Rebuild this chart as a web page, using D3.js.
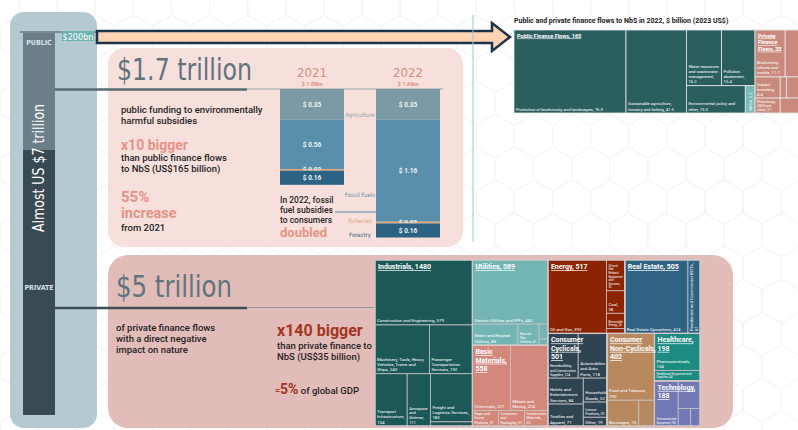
<!DOCTYPE html>
<html>
<head>
<meta charset="utf-8">
<script src="https://cdn.jsdelivr.net/npm/d3@7"></script>
<style>
body { margin: 0; background: #fff; }
svg { display: block; font-family: Roboto, "Noto Sans", sans-serif; }
</style>
</head>
<body>
<svg id="chart" width="798" height="430"></svg>
<script>
// ---- subsidies bars (US$ trillion)
const years = ["2021", "2022"];
const yearTotals = ["$ 1.09tn", "$ 1.69tn"];
const subsidyKeys = ["Agriculture", "Fossil Fuels", "Fisheries", "Forestry"];
const agriculture = [0.35, 0.35];
const fossilFuels = [0.56, 1.16];
const fisheries = [0.02, 0.02];
const forestry = [0.16, 0.16];

// ---- NbS finance flows 2022, $ billion
const nbsGroups = ["Public Finance Flows", "Private Finance Flows"];
const nbsTotals = [165, 35];
const nbsPublic = [
  ["Protection of biodiversity and landscapes", 76.9],
  ["Sustainable agriculture, forestry and fishing", 41.5],
  ["Water resources and wastewater management", 16.2],
  ["Pollution abatement", 15.4],
  ["Environmental policy and other", 13.3],
  ["BECA", 2.2]
];
const nbsPrivate = [
  ["Biodiversity offsets and credits", 11.7],
  ["Sustainable supply chains", 8.1],
  ["Impact investing", 4.4],
  ["Philanthropy (NGO and other)", 3.1],
  ["Carbon markets", 1.1],
  ["Private equity", 3.4],
  ["Other", 3.2]
];

// ---- private flows harmful to nature, $ billion
const sectors = ["Industrials", "Utilities", "Basic Materials", "Energy", "Real Estate",
  "Consumer Cyclicals", "Consumer Non-Cyclicals", "Healthcare", "Technology"];
const sectorTotals = [1480, 589, 558, 517, 505, 501, 402, 198, 188];
const industrials = [
  ["Construction and Engineering", 579],
  ["Machinery, Tools, Heavy Vehicles, Trains and Ships", 243],
  ["Passenger Transportation Services", 192],
  ["Transport Infrastructure", 154],
  ["Aerospace and Defense", 111],
  ["Freight and Logistics Services", 185],
  ["Diversified Industrial Goods Wholesale", 16]
];
const utilities = [
  ["Electric Utilities and IPPs", 443],
  ["Water and Related Utilities", 88],
  ["Natural Gas Utilities", 41],
  ["Multiline Utilities", 12],
  ["Utilities - Other", 5]
];
const basicMaterials = [
  ["Chemicals", 227],
  ["Metals and Mining", 224],
  ["Paper and Forest Products", 37],
  ["Containers and Packaging", 37],
  ["Construction Materials", 33]
];
const energy = [
  ["Oil and Gas", 393],
  ["Oil and Gas Related Equipment and Services", 52],
  ["Coal", 38],
  ["Renewable Energy", 26],
  ["Uranium", 8]
];
const realEstate = [
  ["Real Estate Operations", 424],
  ["Residential and Commercial REITs", 81]
];
const consumerCyclicals = [
  ["Homebuilding and Construction Supplies", 124],
  ["Automobiles and Auto Parts", 118],
  ["Hotels and Entertainment Services", 84],
  ["Textiles and Apparel", 71],
  ["Household Goods", 52],
  ["Leisure Products", 33],
  ["Other", 19]
];
const consumerNonCyclicals = [
  ["Food and Tobacco", 290],
  ["Beverages", 75],
  ["Personal and Household Products and Services", 37]
];
const healthcare = [
  ["Pharmaceuticals", 154],
  ["Healthcare Equipment and Supplies", 44]
];
const technology = [
  ["Semiconductor Equipment", 98],
  ["Communications and Networking", 55],
  ["Software and IT Services", 20],
  ["Electronic Equipment", 15]
];

const sectorColors = ["#1d5858", "#72b5b4", "#d4887b", "#8c2303", "#2f6283",
  "#2e4450", "#b8895f", "#1c8b82", "#7178b3"];

const svg = d3.select("#chart");
const condensed = "'DejaVu Sans Condensed', 'Roboto Condensed', Roboto, sans-serif";

// scratch text for measuring
const scratch = svg.append("text").attr("visibility", "hidden");
function measure(str, size, weight) {
  return scratch.attr("font-size", size).attr("font-weight", weight).text(str).node().getComputedTextLength();
}
function wrap(str, maxW, size, weight) {
  var words = str.split(" "), lines = [], line = "";
  words.forEach(function(w) {
    var test = line ? line + " " + w : w;
    if (line && measure(test, size, weight) > maxW) { lines.push(line); line = w; }
    else line = test;
  });
  if (line) lines.push(line);
  return lines;
}
function widest(lines, size, weight) {
  return d3.max(lines, l => measure(l, size, weight));
}

// faint hexagon background
function hexGrid(w, h, r) {
  var dx = Math.sqrt(3) * r, dy = 1.5 * r, p = "";
  for (var row = 0; row * dy < h + 2 * r; row++) {
    for (var col = -1; col * dx < w + dx; col++) {
      var cx = col * dx + (row % 2 ? dx / 2 : 0), cy = 37 + (row - 1) * dy;
      for (var k = 0; k < 6; k++) {
        var a = Math.PI / 180 * (60 * k - 90);
        p += (k ? "L" : "M") + (cx + r * Math.cos(a)).toFixed(1) + "," + (cy + r * Math.sin(a)).toFixed(1);
      }
      p += "Z";
    }
  }
  return p;
}
svg.append("path").attr("d", hexGrid(798, 430, 22))
  .attr("fill", "none").attr("stroke", "#f4f4f4").attr("stroke-width", 1);

// ---- left column
svg.append("rect").attr("x", 10).attr("y", 12).attr("width", 87).attr("height", 416)
  .attr("rx", 14).attr("fill", "#b5c9d1");
svg.append("line").attr("x1", 20).attr("x2", 97).attr("y1", 32).attr("y2", 32)
  .attr("stroke", "#7d8d94").attr("stroke-width", 2);
svg.append("rect").attr("x", 23).attr("y", 33).attr("width", 32).attr("height", 117).attr("fill", "#6c7f88");
svg.append("rect").attr("x", 23).attr("y", 150).attr("width", 32).attr("height", 265).attr("fill", "#394a52");
svg.append("text").attr("x", 39).attr("y", 45).attr("text-anchor", "middle")
  .attr("font-family", condensed).attr("font-size", 7).attr("font-weight", "bold")
  .attr("fill", "#d6e1e5").text("PUBLIC");
svg.append("text").attr("x", 39).attr("y", 290).attr("text-anchor", "middle")
  .attr("font-family", condensed).attr("font-size", 7).attr("font-weight", "bold")
  .attr("fill", "#d6e1e5").text("PRIVATE");
svg.append("text").attr("transform", "translate(44,168) rotate(-90)").attr("text-anchor", "middle")
  .attr("font-family", condensed).attr("font-size", 15).attr("fill", "#ffffff")
  .attr("textLength", 128).attr("lengthAdjust", "spacingAndGlyphs").text("Almost US $7 trillion");

// arrow to NbS treemap
svg.append("path")
  .attr("d", "M97,31 L492,31 L492,23 L510,37 L492,51 L492,43 L97,43 Z")
  .attr("fill", "#fdd3b3").attr("stroke", "#1d3347").attr("stroke-width", 2.5).attr("stroke-linejoin", "miter");
svg.append("rect").attr("x", 62).attr("y", 31).attr("width", 32).attr("height", 10).attr("fill", "#6db3b3");
svg.append("text").attr("x", 78).attr("y", 39.5).attr("text-anchor", "middle")
  .attr("font-family", condensed).attr("font-size", 9).attr("fill", "#ffffff").text("$200bn");

// vertical divider
svg.append("line").attr("x1", 473).attr("x2", 473).attr("y1", 15).attr("y2", 242)
  .attr("stroke", "#9ccaca").attr("stroke-width", 1);

// ---- public panel
svg.append("rect").attr("x", 108).attr("y", 48).attr("width", 355).attr("height", 199)
  .attr("rx", 16).attr("fill", "#f7dfdc");
svg.append("line").attr("x1", 247).attr("x2", 443).attr("y1", 89).attr("y2", 89)
  .attr("stroke", "#9aa7ad").attr("stroke-width", 1);
svg.append("line").attr("x1", 55).attr("x2", 247).attr("y1", 89.5).attr("y2", 89.5)
  .attr("stroke", "#5a6b73").attr("stroke-width", 2.5);
svg.append("text").attr("x", 117).attr("y", 80).attr("font-family", condensed)
  .attr("font-size", 30).attr("fill", "#5e747e")
  .attr("textLength", 135).attr("lengthAdjust", "spacingAndGlyphs").text("$1.7 trillion");

function textLines(x, y, lines, size, color, weight, lh) {
  var t = svg.append("text").attr("x", x).attr("y", y).attr("font-size", size)
    .attr("fill", color).attr("font-weight", weight || "normal");
  lines.forEach(function(l, i) {
    t.append("tspan").attr("x", x).attr("dy", i ? lh : 0).text(l);
  });
  return t;
}
textLines(121, 113, ["public funding to environmentally", "harmful subsidies"], 9.5, "#1f1f1f", 500, 11);
textLines(121, 150, ["x10 bigger"], 14, "#e39487", "bold", 0);
textLines(121, 161, ["than public finance flows", "to NbS (US$165 billion)"], 9.5, "#1f1f1f", 500, 10.5);
textLines(121, 202, ["55%"], 15, "#e39487", "bold", 0);
textLines(121, 218, ["increase"], 14.5, "#e39487", "bold", 0);
textLines(121, 231, ["from 2021"], 9.5, "#1f1f1f", 500, 0);

// stacked bars
const subsidyRows = years.map(function(y, i) {
  return { year: y, "Agriculture": agriculture[i], "Fossil Fuels": fossilFuels[i],
    "Fisheries": fisheries[i], "Forestry": forestry[i] };
});
const stacked = d3.stack().keys(subsidyKeys)(subsidyRows);
const yBar = d3.scaleLinear().domain([0, 1.69]).range([89, 237.5]);
const xBar = d3.scaleBand().domain(years).range([280, 440]).paddingInner(1 / 3);
const subsidyColor = d3.scaleOrdinal().domain(subsidyKeys).range(["#7b9aa5", "#5a8fab", "#d7a47a", "#2c6383"]);
const subsidyLabelColor = d3.scaleOrdinal().domain(subsidyKeys).range(["#8ba3ad", "#5a8fab", "#d7a47a", "#2c6383"]);

const layers = svg.selectAll("g.layer").data(stacked).enter().append("g").attr("class", "layer");
layers.selectAll("rect").data(d => d).enter().append("rect")
  .attr("x", d => xBar(d.data.year))
  .attr("y", d => yBar(d[0]))
  .attr("width", xBar.bandwidth())
  .attr("height", d => yBar(d[1]) - yBar(d[0]))
  .attr("fill", function() { return subsidyColor(d3.select(this.parentNode).datum().key); });
layers.selectAll("text").data(d => d).enter().append("text")
  .attr("x", d => xBar(d.data.year) + xBar.bandwidth() / 2)
  .attr("y", d => (yBar(d[0]) + yBar(d[1])) / 2 + 2.3)
  .attr("text-anchor", "middle").attr("font-size", 6.5).attr("font-weight", "bold")
  .attr("fill", "#eef3f6")
  .text(d => "$ " + d3.format(".2f")(d[1] - d[0]));

svg.selectAll("text.year").data(years).enter().append("text").attr("class", "year")
  .attr("x", d => xBar(d) + xBar.bandwidth() / 2).attr("y", 77)
  .attr("text-anchor", "middle").attr("font-family", condensed).attr("font-size", 13)
  .attr("fill", "#d98c7e").text(d => d);
svg.selectAll("text.ytot").data(yearTotals).enter().append("text").attr("class", "ytot")
  .attr("x", (d, i) => xBar(years[i]) + xBar.bandwidth() / 2).attr("y", 86)
  .attr("text-anchor", "middle").attr("font-size", 5.5).attr("font-weight", "bold")
  .attr("fill", "#d98c7e").text(d => d);

// category labels beside the 2022 bar (placed near the bottom edge of each 2022 segment)
const labelOffsets = [-3, -25, 1.5, -1];
svg.selectAll("text.cat").data(stacked).enter().append("text").attr("class", "cat")
  .attr("x", 360).attr("y", (s, i) => yBar(i === 2 ? s[1][0] : s[1][1]) + labelOffsets[i])
  .attr("text-anchor", "middle").attr("font-family", condensed).attr("font-size", 6)
  .attr("fill", s => subsidyLabelColor(s.key)).text(s => s.key);

// annotation
textLines(280, 203, ["In 2022, fossil", "fuel subsidies", "to consumers"], 8.5, "#1f1f1f", 500, 9.8);
textLines(280, 237, ["doubled"], 13, "#e39487", "bold", 0);
svg.append("line").attr("x1", 335).attr("x2", xBar("2022")).attr("y1", 212).attr("y2", 212)
  .attr("stroke", "#5a8fab").attr("stroke-width", 1);

// ---- treemap label helpers
function headerLabels(g, groups, totals, size) {
  groups.forEach(function(d, i) {
    var first = d.children[0];
    var w = Math.max(first.x1 - first.x0, 30) - 5;
    var lines = wrap(d.data.name + ", " + totals[i], w, size, "bold");
    d.headerH = lines.length * size * 1.2 + 3;
    lines.forEach(function(l, k) {
      g.append("text").attr("x", d.x0 + 3).attr("y", d.y0 + size + 2 + k * size * 1.2)
        .attr("font-size", size).attr("font-weight", "bold").attr("fill", "#ffffff")
        .style("text-decoration", "underline").text(l);
    });
  });
}
function leafLabels(g, leaves, size, fmt, maxX) {
  leaves.forEach(function(d) {
    var w = d.x1 - d.x0, h = d.y1 - d.y0, str = d.data.name + ", " + fmt(d.value);
    if (maxX && d.x0 + 10 > maxX) return;
    var avail = h - 3;
    if (d === d.parent.children[0]) avail -= (d.parent.headerH || 0);
    var sizes = [size, size * 0.88, size * 0.78, size * 0.68];
    for (var s = 0; s < sizes.length; s++) {
      var fs = sizes[s], lh = fs * 1.2, lines;
      if (w < 14 && h > 25) {
        // narrow tall cell: rotated text
        lines = wrap(str, h - 5, fs, "normal");
        if (lines.length * lh > w - 1 || widest(lines, fs, "normal") > h - 4) continue;
        lines.forEach(function(l, i) {
          var cx = d.x0 + w / 2 + fs / 2.6 - (lines.length - 1 - i) * lh + (lines.length - 1) * lh / 2;
          g.append("text").attr("transform", "translate(" + cx + "," + (d.y1 - 2.5) + ") rotate(-90)")
            .attr("font-size", fs).attr("fill", "#ffffff").text(l);
        });
        return;
      }
      if (w < 14) return;
      lines = wrap(str, w - 4, fs, "normal");
      if (lines.length * lh > avail || widest(lines, fs, "normal") > w - 2.5) continue;
      lines.forEach(function(l, i) {
        g.append("text").attr("x", d.x0 + 2).attr("y", d.y1 - 2.5 - (lines.length - 1 - i) * lh)
          .attr("font-size", fs).attr("fill", "#ffffff").text(l);
      });
      return;
    }
  });
}

// ---- NbS treemap (top right, runs off the page edge like the original)
svg.append("text").attr("x", 514).attr("y", 23).attr("font-size", 7).attr("font-weight", "bold")
  .attr("fill", "#222").text("Public and private finance flows to NbS in 2022, $ billion (2023 US$)");

const nbsTree = { name: "NbS", children: nbsGroups.map(function(g, i) {
  return { name: g, total: nbsTotals[i], children: [nbsPublic, nbsPrivate][i].map(c => ({ name: c[0], value: c[1] })) };
}) };
const nbsRoot = d3.hierarchy(nbsTree).sum(d => d.value || 0);
d3.treemap().size([292, 83]).tile(function(node, x0, y0, x1, y1) {
  if (node.data.name === "Private Finance Flows") d3.treemapBinary(node, x0, y0, x1, y1);
  else d3.treemapSquarify.ratio(1)(node, x0, y0, x1, y1);
})(nbsRoot);

const nbsG = svg.append("g").attr("transform", "translate(514,30)");
nbsG.selectAll("rect").data(nbsRoot.leaves()).enter().append("rect")
  .attr("x", d => d.x0).attr("y", d => d.y0)
  .attr("width", d => d.x1 - d.x0).attr("height", d => d.y1 - d.y0)
  .attr("fill", d => d.parent.data.name === "Public Finance Flows" ? (d.value < 5 ? "#77b8b8" : "#2b5f5e") : "#c98a7d")
  .attr("stroke", "#e3e8e8").attr("stroke-width", 0.8);
headerLabels(nbsG, nbsRoot.children, nbsTotals, 5.5);
leafLabels(nbsG, nbsRoot.leaves(), 4.2, d3.format(".1f"), 284 - 20);

// ---- private panel
svg.append("rect").attr("x", 108).attr("y", 255).attr("width", 625).attr("height", 173)
  .attr("rx", 20).attr("fill", "#e2bcb8");
svg.append("line").attr("x1", 247).attr("x2", 376).attr("y1", 307.5).attr("y2", 307.5)
  .attr("stroke", "#8c9aa0").attr("stroke-width", 1);
svg.append("line").attr("x1", 55).attr("x2", 247).attr("y1", 308).attr("y2", 308)
  .attr("stroke", "#3d4d55").attr("stroke-width", 2.5);
svg.append("text").attr("x", 116).attr("y", 297).attr("font-family", condensed)
  .attr("font-size", 30).attr("fill", "#5e747e")
  .attr("textLength", 116).attr("lengthAdjust", "spacingAndGlyphs").text("$5 trillion");
textLines(116, 331, ["of private finance flows", "with a direct negative", "impact on nature"], 9.5, "#1f1f1f", 500, 11);
textLines(277, 336, ["x140 bigger"], 16, "#a3361f", "bold", 0);
textLines(277, 349, ["than private finance to", "NbS (US$35 billion)"], 9.5, "#1f1f1f", 500, 11);
var gdp = svg.append("text").attr("x", 275).attr("y", 394).attr("fill", "#1f1f1f").attr("font-size", 9.5).attr("font-weight", 500);
gdp.append("tspan").attr("fill", "#a3361f").attr("font-size", 9).text("=");
gdp.append("tspan").attr("fill", "#a3361f").attr("font-size", 14).attr("font-weight", "bold").text("5%");
gdp.append("tspan").text(" of global GDP");

const sectorChildren = [industrials, utilities, basicMaterials, energy, realEstate,
  consumerCyclicals, consumerNonCyclicals, healthcare, technology];
const sectorTree = { name: "Private", children: sectors.map(function(s, i) {
  return { name: s, children: sectorChildren[i].map(c => ({ name: c[0], value: c[1] })) };
}) };
const sectorRoot = d3.hierarchy(sectorTree).sum(d => d.value || 0);
d3.treemap().size([325, 166]).tile(d3.treemapSquarify.ratio(1))(sectorRoot);

const secG = svg.append("g").attr("transform", "translate(375,260)");
secG.selectAll("rect.leaf").data(sectorRoot.leaves()).enter().append("rect").attr("class", "leaf")
  .attr("x", d => d.x0).attr("y", d => d.y0)
  .attr("width", d => d.x1 - d.x0).attr("height", d => d.y1 - d.y0)
  .attr("fill", d => sectorColors[sectors.indexOf(d.parent.data.name)])
  .attr("stroke", "#c7c2c2").attr("stroke-width", 0.8);
secG.selectAll("rect.grp").data(sectorRoot.children).enter().append("rect").attr("class", "grp")
  .attr("x", d => d.x0).attr("y", d => d.y0)
  .attr("width", d => d.x1 - d.x0).attr("height", d => d.y1 - d.y0)
  .attr("fill", "none").attr("stroke", "#d3c9c9").attr("stroke-width", 1.2);
headerLabels(secG, sectorRoot.children, sectorTotals, 7);
leafLabels(secG, sectorRoot.leaves(), 4.4, d3.format("d"));
</script>
</body>
</html>
